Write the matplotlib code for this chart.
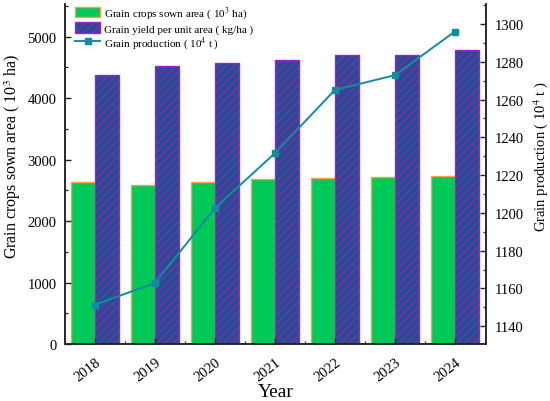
import matplotlib
matplotlib.use("Agg")
import matplotlib.pyplot as plt
import numpy as np
from matplotlib.ticker import MultipleLocator

plt.rcParams['font.family'] = ['Liberation Serif', 'DejaVu Serif']
plt.rcParams['mathtext.fontset'] = 'stix'
plt.rcParams['hatch.linewidth'] = 0.6

years = ['2018', '2019', '2020', '2021', '2022', '2023', '2024']
sown_area = [2643, 2578, 2643, 2676, 2704, 2720, 2725]
unit_yield = [4370, 4528, 4565, 4612, 4696, 4707, 4783]
production = [1151.4, 1162.9, 1202.6, 1231.6, 1265.1, 1272.9, 1296.0]

green = '#00C957'
orange = '#FF9E4A'
navy = '#2B4B8F'
purple = '#A020D8'
teal = '#148CA0'
axcol = '#222222'

fig = plt.figure(figsize=(5.5, 4.02), dpi=100)
ax = fig.add_axes([65/550, 57/402, 421/550, 340/402])
ax2 = ax.twinx()

x = np.arange(len(years))
w = 0.405
b1 = ax.bar(x - w/2, sown_area, w, color=green, edgecolor=orange, linewidth=1.0,
            label='Grain crops sown area ( 10$^3$ ha)')
b2 = ax.bar(x + w/2, unit_yield, w, color=navy, edgecolor=purple, linewidth=1.0,
            hatch='////', label='Grain yield per unit area ( kg/ha )')
l1, = ax2.plot(x, production, color=teal, lw=1.4, marker='s', ms=5,
               label='Grain production ( 10$^4$ t )')

ax.set_xlim(-0.5, 6.52)
ax.set_ylim(0, 5530)
ax2.set_ylim(1130.6, 1310.6)

ax.set_xticks(x)
ax.set_xticklabels(years, rotation=38, ha='right', va='top', rotation_mode='anchor', fontsize=10.5)
ax.xaxis.set_minor_locator(MultipleLocator(0.5))
ax.yaxis.set_major_locator(MultipleLocator(1000))
ax.yaxis.set_minor_locator(MultipleLocator(500))
ax2.yaxis.set_major_locator(MultipleLocator(20))
ax2.yaxis.set_minor_locator(MultipleLocator(10))

for a in (ax, ax2):
    a.spines['top'].set_visible(False)
    for s in ('left', 'right', 'bottom'):
        a.spines[s].set_linewidth(1.1)
        a.spines[s].set_color(axcol)
    a.tick_params(which='major', direction='in', length=4, width=1.0, color=axcol, labelsize=10.5)
    a.tick_params(which='minor', direction='in', length=2.5, width=0.9, color=axcol)
ax.tick_params(axis='x', which='major', pad=8)
ax.tick_params(axis='y', which='major', pad=6)
ax2.tick_params(axis='y', which='major', pad=6)

ax.set_xlabel('Year', fontsize=14, labelpad=0)
ax.set_ylabel('Grain crops sown area ( 10$^3$ ha)', fontsize=11.5)
ax.yaxis.set_label_coords(-0.100, 0.554)
ax2.set_ylabel('Grain production ( 10$^4$ t )', fontsize=10.5)
ax2.yaxis.set_label_coords(1.108, 0.554)

ax.legend(handles=[b1, b2, l1], loc='upper left', bbox_to_anchor=(0.022, 1.0),
          frameon=False, fontsize=8, handlelength=2.3, handleheight=1.1,
          labelspacing=0.1, handletextpad=0.3, borderaxespad=0.0, borderpad=0.05)

fig.savefig('out.png', dpi=100)
